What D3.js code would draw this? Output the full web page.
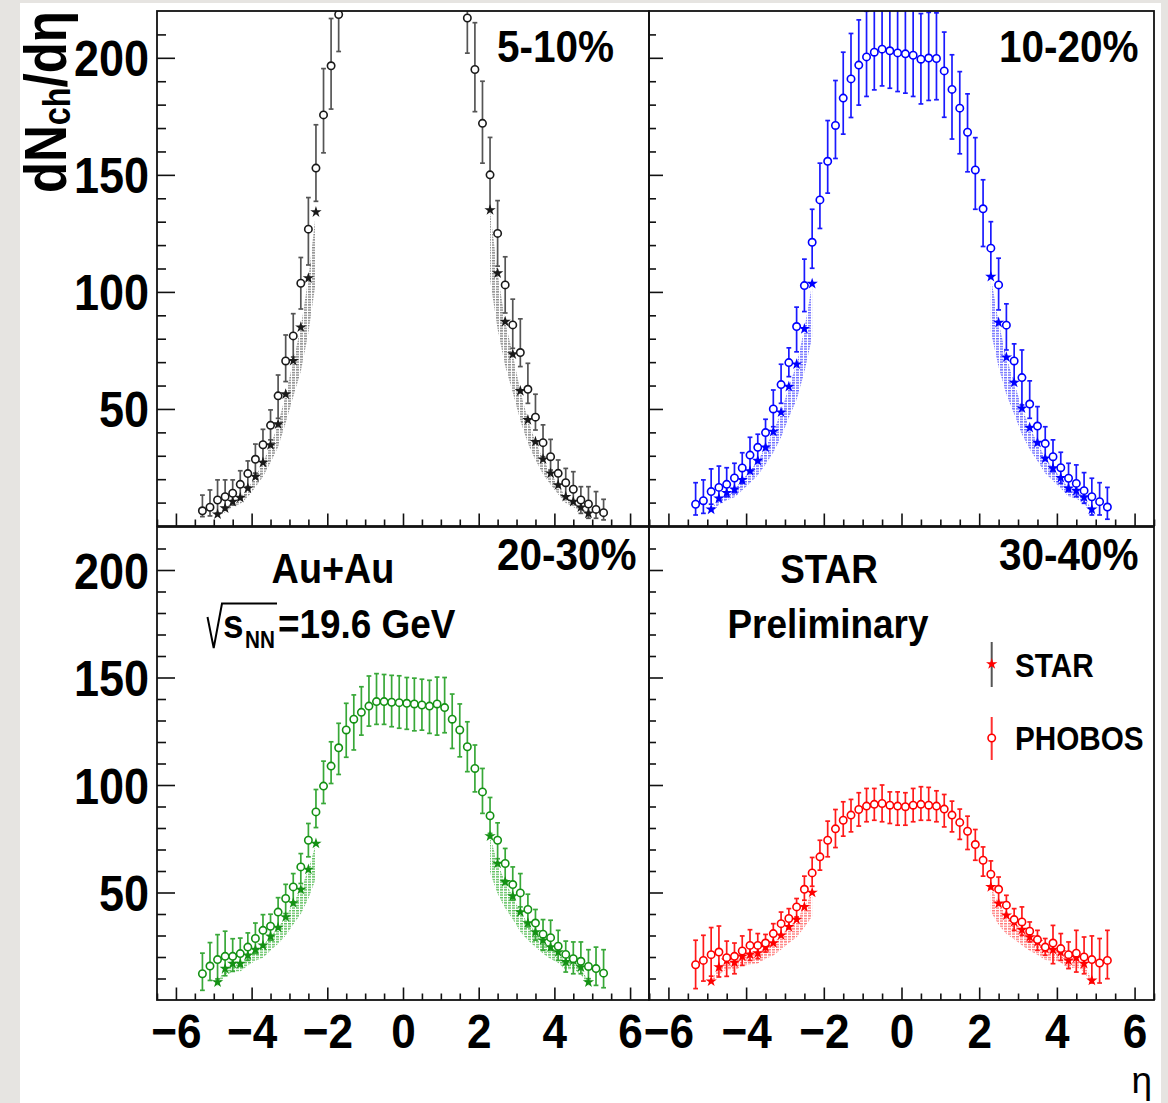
<!DOCTYPE html>
<html>
<head>
<meta charset="utf-8">
<script src="https://cdn.jsdelivr.net/npm/d3@7"></script>
<style>
  html, body { margin: 0; padding: 0; background: #e6e4e1; }
  svg { display: block; }
</style>
</head>
<body>
<svg id="chart" width="1168" height="1103"></svg>
<script>
// ---------- pseudorapidity bins ----------
const etaPhobos = [-5.3, -5.1, -4.9, -4.7, -4.5, -4.3, -4.1, -3.9, -3.7, -3.5, -3.3, -3.1, -2.9, -2.7,
  -2.5, -2.3, -2.1, -1.9, -1.7, -1.5, -1.3, -1.1, -0.9, -0.7, -0.5, -0.3, -0.1,
  0.1, 0.3, 0.5, 0.7, 0.9, 1.1, 1.3, 1.5, 1.7, 1.9, 2.1, 2.3, 2.5, 2.7, 2.9,
  3.1, 3.3, 3.5, 3.7, 3.9, 4.1, 4.3, 4.5, 4.7, 4.9, 5.1, 5.3];
const etaStar = [-4.9, -4.7, -4.5, -4.3, -4.1, -3.9, -3.7, -3.5, -3.3, -3.1, -2.9, -2.7, -2.5, -2.3,
  2.3, 2.5, 2.7, 2.9, 3.1, 3.3, 3.5, 3.7, 3.9, 4.1, 4.3, 4.5, 4.7, 4.9];

// ---------- 5-10% ----------
const phobos0510 = [6.5, 8.0, 11.1, 12.5, 14.0, 17.8, 22.4, 28.5, 34.7, 43.0, 55.6, 70.5, 81.2, 103.7,
  126.8, 152.9, 175.6, 196.6, 218.5, 248, 262, 274, 282, 287, 290, 291, 291,
  291, 290, 289, 286, 281, 273, 261, 247, 217, 195, 172, 150, 125, 103, 85.9,
  74.1, 58.4, 46.5, 35.6, 29.6, 22.5, 18.5, 15.7, 11.1, 9.4, 7.1, 5.7];
const phobosHi0510 = [6.7, 7.4, 8.6, 7.2, 5.7, 5.8, 5.4, 6.5, 6.6, 6.6, 8.9, 11.1, 9.5, 11.0,
  13.5, 18.5, 19.8, 20.2, 21.0, 24, 25, 26, 27, 28, 28, 28, 28,
  28, 28, 28, 28, 27, 26, 25, 24, 20, 20, 18, 16, 14, 12, 11,
  14.4, 11.1, 9.8, 7.6, 7.4, 5.7, 6.1, 7.5, 5.7, 7.4, 7.6, 5.7];
const phobosLo0510 = [2.5, 3.7, 5.6, 5.7, 5.0, 5.8, 5.6, 5.9, 7.2, 6.2, 9.6, 8.8, 9.0, 11.0,
  15.3, 14.2, 16.2, 18.5, 15.8, 24, 25, 26, 27, 28, 28, 28, 28,
  28, 28, 28, 28, 27, 26, 25, 24, 15, 18, 17, 15, 14, 12, 10,
  6.0, 6.0, 5.5, 6.0, 5.7, 5.7, 6.0, 5.3, 5.7, 6.1, 3.8, 3.1];
const star0510 = [5.0, 7.6, 10.4, 12.1, 16.1, 21.1, 27.1, 34.6, 43.5, 56.3, 70.6, 84.9, 105.9, 134.1,
  135.0, 108.0, 87.3, 73.4, 57.7, 45.3, 36.0, 28.5, 22.5, 17.5, 12.5, 10.4, 8.0, 5.4];
const starLow0510 = [3.8, 5.9, 8.2, 9.4, 12.5, 16.6, 21.0, 27.1, 33.8, 44.0, 55.2, 66.0, 82.5, 104.8,
  105.2, 84.0, 68.4, 57.0, 45.1, 35.2, 28.2, 22.1, 17.7, 13.6, 9.8, 8.1, 6.3, 4.1];

// ---------- 10-20% ----------
const phobos1020 = [9.3, 10.8, 14.7, 16.5, 17.8, 20.5, 24.8, 30.3, 33.6, 39.9, 50.0, 60.4, 69.8, 85.2,
  102.7, 121.2, 139.3, 155.8, 171.1, 182.8, 191.0, 196.9, 200.4, 202.4, 203.7, 203.0, 202.1,
  201.7, 201.1, 199.4, 199.9, 199.7, 194.4, 186.5, 178.5, 168.2, 152.1, 135.5, 118.7, 103.0, 85.8, 70.5,
  63.4, 52.1, 42.7, 35.2, 29.6, 24.9, 20.4, 18.2, 15.1, 12.5, 10.4, 8.1];
const phobosHi1020 = [9.2, 8.9, 9.7, 9.1, 7.1, 6.3, 6.5, 7.6, 5.6, 5.7, 8.1, 8.7, 6.3, 8.3,
  11.3, 14.1, 15.7, 17.4, 19.2, 19.6, 19.4, 19.3, 19.5, 19.5, 19.5, 19.5, 19.5,
  19.5, 19.5, 19.5, 19.5, 19.5, 16.6, 14.8, 15.6, 16.4, 13.8, 12.4, 11.3, 11.4, 9.1, 7.3,
  11.8, 9.9, 8.3, 7.2, 7.2, 6.6, 6.4, 7.9, 7.7, 7.9, 8.1, 8.4];
const phobosLo1020 = [4.6, 5.4, 5.4, 5.7, 5.3, 6.3, 6.6, 7.1, 6.1, 6.0, 7.6, 8.0, 6.0, 10.8,
  11.1, 11.1, 12.2, 13.6, 14.1, 15.4, 16.5, 17.1, 16.9, 16.1, 15.7, 16.0, 16.5,
  16.8, 17.6, 19.1, 18.1, 17.6, 19.8, 21.2, 19.5, 16.9, 16.8, 16.1, 12.2, 10.7, 10.6, 8.8,
  11.7, 6.1, 7.4, 6.3, 6.4, 6.7, 5.7, 5.7, 5.4, 7.8, 5.7, 5.2];
const star1020 = [7.1, 11.8, 14.2, 15.7, 19.7, 23.5, 27.9, 33.6, 40.3, 48.6, 59.5, 69.1, 84.2, 103.5,
  106.5, 86.9, 72.1, 61.3, 50.3, 42.0, 35.6, 28.9, 24.7, 20.6, 16.1, 15.1, 12.3, 7.1];
const starLow1020 = [5.4, 9.1, 11.0, 12.3, 15.3, 18.4, 21.7, 26.3, 31.4, 37.9, 46.4, 53.9, 65.8, 80.7,
  83.1, 67.8, 56.2, 47.8, 39.2, 32.8, 27.8, 22.5, 19.3, 16.1, 12.6, 11.8, 9.6, 5.5];

// ---------- 20-30% ----------
const phobos2030 = [12.2, 15.8, 18.8, 20.3, 20.3, 21.6, 24.6, 28.6, 32.4, 34.3, 40.9, 47.2, 52.6, 61.9,
  74.3, 87.5, 99.5, 108.8, 117.3, 125.6, 130.6, 133.8, 136.7, 138.8, 138.8, 138.5, 138.3,
  138.0, 137.7, 137.2, 136.7, 137.7, 136.0, 130.6, 125.6, 117.8, 107.7, 96.8, 85.7, 74.3, 63.5, 53.7,
  49.8, 42.1, 35.8, 30.6, 29.0, 25.0, 21.2, 19.2, 18.0, 15.6, 14.6, 12.5];
const phobosHi2030 = [9.6, 10.9, 11.6, 11.7, 8.2, 7.2, 6.6, 7.2, 7.3, 5.6, 6.7, 6.6, 6.2, 6.2,
  7.8, 10.4, 11.6, 11.3, 11.4, 12.4, 11.3, 11.9, 14.0, 13.0, 12.6, 12.5, 12.5,
  12.0, 12.0, 12.0, 12.0, 12.5, 14.0, 11.7, 12.1, 11.6, 10.9, 10.9, 8.5, 8.1, 7.0, 8.2,
  9.0, 7.1, 6.3, 6.8, 8.1, 7.4, 6.2, 7.8, 9.0, 7.8, 10.0, 10.9];
const phobosLo2030 = [7.7, 6.7, 9.0, 9.0, 7.0, 6.0, 6.2, 7.0, 7.8, 6.5, 7.7, 7.0, 7.0, 7.7,
  7.7, 7.3, 8.1, 8.1, 12.4, 12.7, 14.3, 10.6, 9.3, 10.6, 10.6, 11.4, 11.9,
  12.1, 12.5, 11.7, 12.7, 14.5, 11.7, 13.6, 12.5, 11.6, 10.9, 10.0, 8.2, 8.6, 7.8, 7.3,
  6.5, 8.1, 8.0, 7.5, 5.9, 6.6, 8.2, 7.0, 5.8, 5.7, 7.8, 6.8];
const star2030 = [8.3, 14.6, 16.9, 16.9, 20.8, 23.4, 25.4, 29.6, 33.7, 38.6, 45.1, 51.4, 60.7, 72.8,
  76.2, 63.5, 54.9, 48.3, 40.9, 35.8, 31.6, 27.8, 24.6, 22.3, 17.7, 18.4, 15.3, 8.3];
const starLow2030 = [6.4, 11.3, 13.1, 13.2, 16.1, 18.2, 19.7, 23.0, 26.2, 30.0, 35.1, 40.0, 47.2, 56.6,
  59.3, 49.4, 42.7, 37.6, 31.8, 27.8, 24.6, 21.6, 19.1, 17.3, 13.8, 14.3, 11.9, 6.5];

// ---------- 30-40% ----------
const phobos3040 = [16.4, 18.4, 21.1, 22.3, 19.7, 20.3, 22.8, 25.4, 25.4, 26.5, 30.9, 35.5, 37.9, 43.3,
  51.5, 59.1, 66.6, 74.3, 79.6, 83.6, 86.0, 88.6, 90.2, 91.0, 91.4, 90.6, 90.2,
  89.9, 90.6, 91.0, 90.6, 90.2, 88.8, 86.0, 82.6, 78.5, 72.3, 65.0, 58.5, 51.5, 44.1, 37.4,
  36.3, 32.0, 28.1, 24.6, 26.5, 23.9, 21.1, 21.8, 20.0, 18.8, 17.2, 18.4];
const phobosHi3040 = [11.4, 11.7, 12.6, 12.1, 7.7, 6.2, 7.0, 7.3, 5.5, 4.0, 4.6, 5.4, 4.6, 3.9,
  6.1, 7.2, 7.7, 8.9, 9.0, 8.6, 7.3, 7.8, 8.2, 7.4, 8.6, 6.2, 6.6,
  6.5, 7.8, 8.2, 8.3, 7.1, 6.8, 6.5, 6.2, 7.0, 7.0, 6.2, 6.2, 5.7, 4.6, 5.1,
  7.0, 4.3, 4.3, 4.0, 8.2, 7.0, 5.9, 10.6, 9.3, 11.0, 11.4, 14.0];
const phobosLo3040 = [11.1, 9.6, 10.0, 11.6, 8.7, 8.1, 6.7, 7.0, 6.2, 4.2, 4.7, 5.4, 4.7, 4.7,
  5.1, 6.2, 6.2, 7.7, 8.7, 7.4, 7.8, 7.7, 7.3, 7.4, 8.5, 8.5, 8.9,
  8.6, 7.7, 7.4, 7.0, 7.3, 8.3, 7.8, 7.9, 8.5, 7.3, 7.4, 6.7, 6.4, 5.2, 5.0,
  6.2, 5.0, 5.0, 3.8, 9.6, 5.5, 6.5, 8.8, 7.8, 10.9, 9.3, 8.5];
const star3040 = [8.7, 15.3, 18.4, 17.4, 20.3, 21.2, 21.8, 24.6, 26.5, 30.1, 34.0, 37.4, 43.3, 50.0,
  52.6, 44.9, 39.4, 36.3, 32.7, 29.3, 27.0, 23.9, 23.4, 22.3, 18.4, 19.7, 16.9, 9.1];
const starLow3040 = [6.8, 11.9, 14.3, 13.6, 15.8, 16.5, 17.0, 19.2, 20.7, 23.5, 26.5, 29.2, 33.8, 39.0,
  41.0, 35.0, 30.7, 28.3, 25.5, 22.9, 21.1, 18.6, 18.3, 17.4, 14.4, 15.4, 13.2, 7.1];

// ---------- axis ticks ----------
const yMajorTicks = [50, 100, 150, 200];
const yMinorTicks = [10, 20, 30, 40, 60, 70, 80, 90, 110, 120, 130, 140, 160, 170, 180, 190, 210];
const xMajorTicks = [-6, -4, -2, 0, 2, 4, 6];
const xMinorTicks = [-6.5, -5.5, -5, -4.5, -3.5, -3, -2.5, -1.5, -1, -0.5, 0.5, 1, 1.5, 2.5, 3, 3.5, 4.5, 5, 5.5, 6.5];

// ---------- layout & styling ----------
const FONT = "'Liberation Sans', Arial, Helvetica, sans-serif";
const colEdges = [[157, 649], [649, 1154]];
const rowEdges = [[11, 526], [527, 1000]];

const panels = [
  { label: "5-10%",  col: 0, row: 0, v: phobos0510, hi: phobosHi0510, lo: phobosLo0510, s: star0510, sLow: starLow0510,
    mark: "#1a1a1a", bar: "#555555", band: "#7a7a7a" },
  { label: "10-20%", col: 1, row: 0, v: phobos1020, hi: phobosHi1020, lo: phobosLo1020, s: star1020, sLow: starLow1020,
    mark: "#0000ff", bar: "#1a1aff", band: "#5a5aff" },
  { label: "20-30%", col: 0, row: 1, v: phobos2030, hi: phobosHi2030, lo: phobosLo2030, s: star2030, sLow: starLow2030,
    mark: "#149114", bar: "#38a838", band: "#4cb84c" },
  { label: "30-40%", col: 1, row: 1, v: phobos3040, hi: phobosHi3040, lo: phobosLo3040, s: star3040, sLow: starLow3040,
    mark: "#ff0000", bar: "#ff1a1a", band: "#ff6a6a" }
];

const svg = d3.select("#chart");
const defs = svg.append("defs");

// paper
svg.append("rect").attr("x", 20).attr("y", 3).attr("width", 1141).attr("height", 1100).attr("fill", "#ffffff");

// condensed bold label helper
function boldText(parent, x, y, txt, size, anchor) {
  return parent.append("text")
    .attr("transform", `translate(${x},${y}) scale(0.9,1)`)
    .attr("text-anchor", anchor || "start")
    .style("font-family", FONT).style("font-weight", "bold").style("font-size", size + "px")
    .attr("fill", "#000")
    .text(txt);
}

const fmtTick = d => (d < 0 ? "\u2212" + Math.abs(d) : String(d));
const starSymbol = d3.symbol().type(d3.symbolStar).size(40);

panels.forEach((p, i) => {
  const [x0, x1] = colEdges[p.col];
  const [yt, yb] = rowEdges[p.row];
  const x = d3.scaleLinear().domain([-6.5, 6.5]).range([x0, x1]);
  const y = d3.scaleLinear().domain([0, 220]).range([yb, yt]);
  const g = svg.append("g");

  defs.append("clipPath").attr("id", "clip" + i)
    .append("rect").attr("x", x0).attr("y", yt).attr("width", x1 - x0).attr("height", yb - yt);

  const pat = defs.append("pattern").attr("id", "hatch" + i)
    .attr("patternUnits", "userSpaceOnUse").attr("width", 4).attr("height", 2.6);
  pat.append("rect").attr("x", 0).attr("y", 0).attr("width", 3).attr("height", 1.4)
    .attr("fill", p.band).attr("fill-opacity", 0.9);

  const data = g.append("g").attr("clip-path", `url(#clip${i})`);

  // STAR systematic band (one polygon per hemisphere)
  const starPts = etaStar.map((e, k) => ({ eta: e, v: p.s[k], low: p.sLow[k] }));
  const area = d3.area().x(d => x(d.eta)).y0(d => y(d.low)).y1(d => y(d.v));
  [starPts.filter(d => d.eta < 0), starPts.filter(d => d.eta > 0)].forEach(side => {
    data.append("path").attr("d", area(side)).attr("fill", `url(#hatch${i})`);
  });

  // PHOBOS error bars
  const ph = etaPhobos.map((e, k) => ({ eta: e, v: p.v[k], hi: p.hi[k], lo: p.lo[k] }));
  const bars = data.append("g").attr("stroke", p.bar).attr("stroke-width", 1.7).attr("fill", "none");
  ph.forEach(d => {
    const cx = x(d.eta), ty = y(d.v + d.hi), by = y(d.v - d.lo);
    bars.append("line").attr("x1", cx).attr("x2", cx).attr("y1", ty).attr("y2", by);
    bars.append("line").attr("x1", cx - 2.4).attr("x2", cx + 2.4).attr("y1", ty).attr("y2", ty);
    bars.append("line").attr("x1", cx - 2.4).attr("x2", cx + 2.4).attr("y1", by).attr("y2", by);
  });

  // STAR points
  data.append("g").selectAll("path").data(starPts).join("path")
    .attr("d", starSymbol)
    .attr("transform", d => `translate(${x(d.eta)},${y(d.v)})`)
    .attr("fill", p.mark);

  // PHOBOS points
  data.append("g").selectAll("circle").data(ph).join("circle")
    .attr("cx", d => x(d.eta)).attr("cy", d => y(d.v)).attr("r", 3.7)
    .attr("fill", "#fff").attr("stroke", p.mark).attr("stroke-width", 1.6);

  // axes (ticks point inwards)
  const yMaj = p.col === 0 ? 18 : 14, yMin = p.col === 0 ? 9 : 7;
  const yAx = g.append("g").attr("transform", `translate(${x0},0)`)
    .call(d3.axisLeft(y).tickValues(yMajorTicks).tickSize(-yMaj).tickPadding(10)
      .tickFormat(p.col === 0 ? d3.format("d") : () => ""));
  g.append("g").attr("transform", `translate(${x0},0)`)
    .call(d3.axisLeft(y).tickValues(yMinorTicks).tickSize(-yMin).tickFormat(() => ""));
  const xAx = g.append("g").attr("transform", `translate(0,${yb})`)
    .call(d3.axisBottom(x).tickValues(xMajorTicks).tickSize(-12.5)
      .tickFormat(p.row === 1 ? fmtTick : () => ""));
  g.append("g").attr("transform", `translate(0,${yb})`)
    .call(d3.axisBottom(x).tickValues(xMinorTicks).tickSize(-6.5).tickFormat(() => ""));

  g.selectAll(".domain").remove();
  g.selectAll(".tick line").attr("stroke", "#111").attr("stroke-width", 1.6);

  yAx.selectAll(".tick text")
    .attr("x", null).attr("dy", null)
    .attr("transform", "translate(-8,18) scale(0.9,1)")
    .attr("text-anchor", "end")
    .style("font-family", FONT).style("font-weight", "bold").style("font-size", "50px").attr("fill", "#000");
  xAx.selectAll(".tick text")
    .attr("y", null).attr("dy", null)
    .attr("transform", "translate(0,48) scale(0.9,1)")
    .attr("text-anchor", "middle")
    .style("font-family", FONT).style("font-weight", "bold").style("font-size", "49px").attr("fill", "#000");

  // frame
  g.append("rect").attr("x", x0).attr("y", yt).attr("width", x1 - x0).attr("height", yb - yt)
    .attr("fill", "none").attr("stroke", "#111").attr("stroke-width", 1.8);

  // centrality label
  boldText(g, p.col === 0 ? 497 : 999, p.row === 0 ? 62 : 570, p.label, 45, "start");
});

// ---------- annotations ----------
const ann = svg.append("g");
boldText(ann, 333, 583, "Au+Au", 42, "middle");
// sqrt(s_NN) = 19.6 GeV
ann.append("path")
  .attr("d", "M207.5,617 L213.7,648 L222,603.5 L277,603.5")
  .attr("fill", "none").attr("stroke", "#000").attr("stroke-width", 2);
boldText(ann, 223, 638, "s", 41, "start");
boldText(ann, 245, 648, "NN", 23, "start");
boldText(ann, 278, 638, "=19.6 GeV", 41, "start");

boldText(ann, 829, 583, "STAR", 41, "middle");
boldText(ann, 828, 638, "Preliminary", 41, "middle");

// legend
const leg = svg.append("g");
leg.append("line").attr("x1", 991.7).attr("x2", 991.7).attr("y1", 642).attr("y2", 687)
  .attr("stroke", "#555").attr("stroke-width", 2);
leg.append("path").attr("d", starSymbol())
  .attr("transform", "translate(991.7,664)").attr("fill", "#ff0000");
boldText(leg, 1015, 677, "STAR", 33, "start");
leg.append("line").attr("x1", 991.7).attr("x2", 991.7).attr("y1", 717).attr("y2", 760)
  .attr("stroke", "#ff3030").attr("stroke-width", 2);
leg.append("circle").attr("cx", 991.7).attr("cy", 738).attr("r", 3.7)
  .attr("fill", "#fff").attr("stroke", "#ff0000").attr("stroke-width", 1.6);
boldText(leg, 1015, 750, "PHOBOS", 33, "start");

// axis titles
const yTitle = svg.append("text")
  .attr("transform", "translate(66,11) rotate(-90) scale(0.85,1)")
  .attr("text-anchor", "end")
  .style("font-family", FONT).style("font-weight", "bold").style("font-size", "60px").attr("fill", "#000");
yTitle.append("tspan").text("dN");
yTitle.append("tspan").attr("dy", 4).style("font-size", "38px").text("ch");
yTitle.append("tspan").attr("dy", -4).text("/d\u03b7");

svg.append("text").attr("x", 1152).attr("y", 1093).attr("text-anchor", "end")
  .style("font-family", FONT).style("font-size", "37px").attr("fill", "#000").text("\u03b7");
</script>
</body>
</html>
